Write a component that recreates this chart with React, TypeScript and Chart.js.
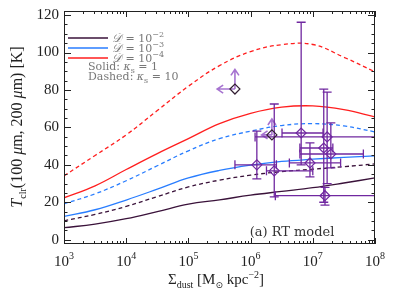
import { useEffect, useRef } from "react";
import { Chart, registerables } from "chart.js";
Chart.register(...registerables);

// x grid (Sigma_dust, Msun kpc^-2) for model curves
const sigmaGrid = [1e3, 3.16e3, 1e4, 3.16e4, 1e5, 3.16e5, 1e6, 3.16e6, 1e7, 3.16e7, 1e8];
// D = 1e-2 (dark), 1e-3 (blue), 1e-4 (red); solid kappa=1, dashed kappa=10
const darkSolid = [6.4, 8.3, 11.2, 15, 19, 21.3, 23.8, 25.8, 27.8, 30.3, 33];
const darkDashed = [10.1, 13.5, 17.8, 23, 28.2, 31.8, 34.5, 36.4, 37.7, 39, 40.5];
const blueSolid = [12.4, 16, 21.2, 27, 33, 37, 39.8, 41.8, 43, 44, 44.8];
const blueDashed = [19.2, 24.5, 31.5, 39.5, 47.5, 54, 58, 61, 62, 60.8, 57.6];
const redSolid = [22.4, 28.8, 37.5, 46, 54, 62, 67.5, 70.8, 71.5, 69.5, 65.6];
const redDashed = [34.1, 45, 56, 69, 82, 93, 100.5, 104.2, 104.3, 97.5, 89.7];

// observed points
const ptX = [5.6e5, 2.2e6, 6.5e6, 1.7e7, 1.5e7, 1.95e7, 9.0e6, 1.26e6, 2.4e6, 1.57e7];
const ptY = [80.5, 56, 57, 54.9, 49, 45.8, 41, 40, 36.8, 23.5];
const ptXlo = [null, null, 3.2e6, 1.18e6, 6.2e6, 6.2e6, 4.2e6, 5.6e5, 1.8e6, 2.5e6];
const ptXhi = [null, null, 1.46e7, 1.5e8, 2.1e7, 6.5e7, 2.8e7, 2.6e6, 1.0e7, 1.5e8];
const ptYlo = [null, null, 40, 30, 20, 38.4, 33.6, 32.5, 22.9, 18.5];
const ptYhi = [null, null, 116.2, 78.9, 80.5, 62.4, 51.7, 58, 72.5, 28];
const limUpY = [91, 64.5, null, null, null, null, null, null, null, null];
const limLeftX = [2.9e5, 1.5e6, null, null, null, null, null, null, null, null];

const xTickExp = ["3", "4", "5", "6", "7", "8"];
const yTicks = [0, 20, 40, 60, 80, 100, 120];
const legendExp = ["\u22122", "\u22123", "\u22124"];

const DARK = "rgb(58,18,58)";
const BLUE = "rgb(40,125,255)";
const RED = "rgb(255,30,30)";
const PURPLE = "rgb(112,40,160)";
const LIGHTPURPLE = "rgba(150,90,200,0.85)";
const SERIF = "'Liberation Serif', 'DejaVu Serif', serif";
const DSERIF = "'DejaVu Serif', serif";

type Seg = { t: string; font: string; dy?: number };
function drawRich(ctx: CanvasRenderingContext2D, segs: Seg[], x: number, y: number, align: string) {
  let w = 0;
  for (const s of segs) { ctx.font = s.font; w += ctx.measureText(s.t).width; }
  let cx = align === "left" ? x : align === "center" ? x - w / 2 : x - w;
  ctx.textAlign = "left";
  for (const s of segs) {
    ctx.font = s.font;
    ctx.fillText(s.t, cx, y + (s.dy || 0));
    cx += ctx.measureText(s.t).width;
  }
}

const pts = (ys: number[]) => sigmaGrid.map((x, i) => ({ x, y: ys[i] }));

export default function App() {
  const ref = useRef<HTMLCanvasElement>(null);
  useEffect(() => {
    document.body.style.margin = "0";
    const canvas = ref.current!;
    const errPlugin = {
      id: "errs",
      beforeDatasetDraw(chart: any, args: any) {
        if (args.index !== 0) return;
        const ctx = chart.ctx as CanvasRenderingContext2D;
        const xs = chart.scales.x, ys = chart.scales.y;
        const a = chart.chartArea;
        ctx.save();
        ctx.beginPath();
        ctx.rect(a.left, a.top, a.right - a.left, a.bottom - a.top);
        ctx.clip();
        ctx.strokeStyle = PURPLE;
        ctx.lineWidth = 1.3;
        const cap = 4.5;
        for (let i = 0; i < ptX.length; i++) {
          const px = xs.getPixelForValue(ptX[i]);
          const py = ys.getPixelForValue(ptY[i]);
          if (ptXlo[i] != null) {
            const x1 = xs.getPixelForValue(ptXlo[i]), x2 = xs.getPixelForValue(ptXhi[i]);
            ctx.beginPath();
            ctx.moveTo(x1, py); ctx.lineTo(x2, py);
            ctx.moveTo(x1, py - cap); ctx.lineTo(x1, py + cap);
            ctx.moveTo(x2, py - cap); ctx.lineTo(x2, py + cap);
            ctx.stroke();
          }
          if (ptYlo[i] != null) {
            const y1 = ys.getPixelForValue(ptYlo[i]), y2 = ys.getPixelForValue(ptYhi[i]);
            ctx.beginPath();
            ctx.moveTo(px, y1); ctx.lineTo(px, y2);
            ctx.moveTo(px - cap, y1); ctx.lineTo(px + cap, y1);
            ctx.moveTo(px - cap, y2); ctx.lineTo(px + cap, y2);
            ctx.stroke();
          }
          if (limUpY[i] != null) {
            ctx.save();
            ctx.strokeStyle = LIGHTPURPLE;
            ctx.lineWidth = 1.6;
            const yt = ys.getPixelForValue(limUpY[i]);
            const xl = xs.getPixelForValue(limLeftX[i]);
            ctx.beginPath();
            ctx.moveTo(px, py); ctx.lineTo(px, yt);
            ctx.moveTo(px - 4, yt + 6); ctx.lineTo(px, yt); ctx.lineTo(px + 4, yt + 6);
            ctx.moveTo(px, py); ctx.lineTo(xl, py);
            ctx.moveTo(xl + 6, py - 4); ctx.lineTo(xl, py); ctx.lineTo(xl + 6, py + 4);
            ctx.stroke();
            ctx.restore();
          }
        }
        ctx.restore();
      },
      afterDraw(chart: any) {
        const ctx = chart.ctx as CanvasRenderingContext2D;
        const xs = chart.scales.x, ys = chart.scales.y;
        const a = chart.chartArea;
        ctx.save();
        // frame
        ctx.strokeStyle = "#222";
        ctx.lineWidth = 1;
        ctx.strokeRect(a.left + 0.5, a.top + 0.5, a.right - a.left - 1, a.bottom - a.top - 1);
        ctx.beginPath();
        // x ticks
        for (let d = 3; d <= 8; d++) {
          const p = Math.round(xs.getPixelForValue(Math.pow(10, d))) + 0.5;
          ctx.moveTo(p, a.bottom); ctx.lineTo(p, a.bottom - 6);
          ctx.moveTo(p, a.top); ctx.lineTo(p, a.top + 6);
          if (d < 8) {
            for (let m = 2; m <= 9; m++) {
              const q = Math.round(xs.getPixelForValue(m * Math.pow(10, d))) + 0.5;
              ctx.moveTo(q, a.bottom); ctx.lineTo(q, a.bottom - 3);
              ctx.moveTo(q, a.top); ctx.lineTo(q, a.top + 3);
            }
          }
        }
        // y ticks
        for (let v = 0; v <= 120; v += 5) {
          const p = Math.round(ys.getPixelForValue(v)) + 0.5;
          const len = v % 20 === 0 ? 7 : 3.5;
          ctx.moveTo(a.left, p); ctx.lineTo(a.left + len, p);
          ctx.moveTo(a.right, p); ctx.lineTo(a.right - len, p);
        }
        ctx.stroke();
        ctx.fillStyle = "#222";
        // y tick labels
        ctx.textBaseline = "middle";
        ctx.textAlign = "right";
        ctx.font = `15px ${SERIF}`;
        for (const v of yTicks) {
          ctx.fillText(String(v), a.left - 5, ys.getPixelForValue(v));
        }
        ctx.textBaseline = "alphabetic";
        // x tick labels
        xTickExp.forEach((e, i) => {
          const p = xs.getPixelForValue(Math.pow(10, 3 + i));
          drawRich(ctx, [
            { t: "10", font: `15px ${SERIF}` },
            { t: e, font: `10px ${SERIF}`, dy: -7 },
          ], p, a.bottom + 22, "center");
        });
        // x title
        drawRich(ctx, [
          { t: "\u03A3", font: `15px ${SERIF}` },
          { t: "dust", font: `10px ${SERIF}`, dy: 4 },
          { t: " [M", font: `15px ${SERIF}` },
          { t: "\u2299", font: `9px 'DejaVu Sans', sans-serif`, dy: 4 },
          { t: " kpc", font: `15px ${SERIF}` },
          { t: "\u22122", font: `10px ${SERIF}`, dy: -6 },
          { t: "]", font: `15px ${SERIF}` },
        ], 216, 284, "center");
        // y title
        ctx.save();
        ctx.translate(22, 127);
        ctx.rotate(-Math.PI / 2);
        drawRich(ctx, [
          { t: "T", font: `italic 16px ${SERIF}` },
          { t: "clr", font: `10px ${SERIF}`, dy: 4 },
          { t: "(100 ", font: `16px ${SERIF}` },
          { t: "\u03BC", font: `italic 16px ${SERIF}` },
          { t: "m, 200 ", font: `16px ${SERIF}` },
          { t: "\u03BC", font: `italic 16px ${SERIF}` },
          { t: "m) [K]", font: `16px ${SERIF}` },
        ], 0, 0, "center");
        ctx.restore();
        // legend
        const legCols = [DARK, BLUE, RED];
        legCols.forEach((c, i) => {
          const y = a.top + 27 + i * 10;
          ctx.strokeStyle = c;
          ctx.lineWidth = 1.3;
          ctx.beginPath();
          ctx.moveTo(a.left + 4, y); ctx.lineTo(a.left + 44, y);
          ctx.stroke();
          ctx.fillStyle = "rgb(120,120,120)";
          drawRich(ctx, [
            { t: "\uD835\uDC9F", font: `italic 12px ${SERIF}` },
            { t: " = 10", font: `11px ${DSERIF}` },
            { t: legendExp[i], font: `8px ${DSERIF}`, dy: -5 },
          ], a.left + 48, y + 4, "left");
        });
        ctx.fillStyle = "rgb(120,120,120)";
        drawRich(ctx, [
          { t: "Solid: ", font: `11px ${DSERIF}` },
          { t: "\u03BA", font: `italic 11px ${DSERIF}` },
          { t: "s", font: `8px ${DSERIF}`, dy: 3 },
          { t: " = 1", font: `11px ${DSERIF}` },
        ], a.left + 24, a.top + 59, "left");
        drawRich(ctx, [
          { t: "Dashed: ", font: `11px ${DSERIF}` },
          { t: "\u03BA", font: `italic 11px ${DSERIF}` },
          { t: "s", font: `8px ${DSERIF}`, dy: 3 },
          { t: " = 10", font: `11px ${DSERIF}` },
        ], a.left + 24, a.top + 69, "left");
        ctx.fillStyle = "#333";
        drawRich(ctx, [{ t: "(a) RT model", font: `13px ${DSERIF}` }], 292, 236, "center");
        ctx.restore();
      },
    };

    const line = (data: number[], color: string, dashed: boolean) => ({
      type: "line" as const,
      data: pts(data),
      borderColor: color,
      borderWidth: 1.3,
      borderDash: dashed ? [4, 3] : [],
      pointRadius: 0,
      fill: false,
      tension: 0.4,
    });

    const chart = new Chart(canvas, {
      type: "line",
      data: {
        datasets: [
          {
            type: "scatter",
            data: ptX.map((x, i) => ({ x, y: ptY[i] })),
            pointStyle: "rectRot",
            pointRadius: 5,
            pointBorderWidth: 1.2,
            pointBackgroundColor: "rgba(0,0,0,0)",
            pointBorderColor: ptX.map((_, i) => (limUpY[i] != null ? "rgb(50,30,50)" : PURPLE)),
            showLine: false,
          } as any,
          line(darkSolid, DARK, false),
          line(darkDashed, DARK, true),
          line(blueSolid, BLUE, false),
          line(blueDashed, BLUE, true),
          line(redSolid, RED, false),
          line(redDashed, RED, true),
        ],
      },
      options: {
        animation: false,
        responsive: false,
        events: [],
        layout: { padding: { left: 64, right: 24, top: 11, bottom: 47 } },
        plugins: { legend: { display: false }, tooltip: { enabled: false } },
        scales: {
          x: { type: "logarithmic", min: 1e3, max: 1e8, display: false },
          y: { type: "linear", min: -2.3, max: 122.2, display: false },
        },
      },
      plugins: [errPlugin],
    });
    return () => chart.destroy();
  }, []);
  return (
    <div style={{ width: 399, height: 291, background: "#fff" }}>
      <canvas ref={ref} width={399} height={291} />
    </div>
  );
}
